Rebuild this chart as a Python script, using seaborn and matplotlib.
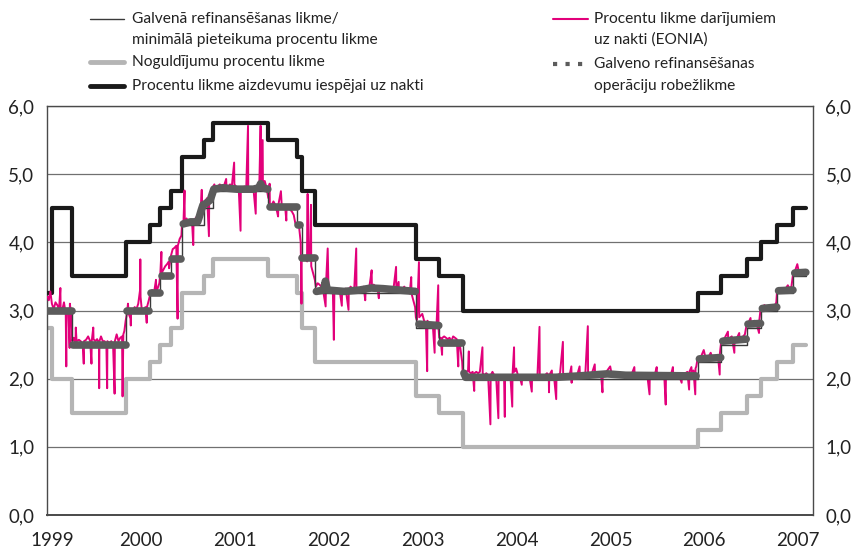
import numpy as np
import pandas as pd
import seaborn as sns
import matplotlib
matplotlib.use("Agg")
from matplotlib import pyplot as plt
import matplotlib.transforms as mtransforms
from matplotlib.lines import Line2D
from matplotlib.ticker import FuncFormatter

# --- ECB policy rates (step changes) ---
rate_dates = ["1999-01-04", "1999-01-22", "1999-04-09", "1999-11-05", "2000-02-04",
              "2000-03-17", "2000-04-28", "2000-06-09", "2000-09-01", "2000-10-06",
              "2001-05-11", "2001-08-31", "2001-09-18", "2001-11-09", "2002-12-06",
              "2003-03-07", "2003-06-06", "2005-12-06", "2006-03-08", "2006-06-15",
              "2006-08-09", "2006-10-11", "2006-12-13", "2007-02-01"]
mro_rate = [3.0, 3.0, 2.5, 3.0, 3.25, 3.5, 3.75, 4.25, 4.5, 4.75, 4.5, 4.25, 3.75,
            3.25, 2.75, 2.5, 2.0, 2.25, 2.5, 2.75, 3.0, 3.25, 3.5, 3.5]
deposit_rate = [2.75, 2.0, 1.5, 2.0, 2.25, 2.5, 2.75, 3.25, 3.5, 3.75, 3.5, 3.25, 2.75,
                2.25, 1.75, 1.5, 1.0, 1.25, 1.5, 1.75, 2.0, 2.25, 2.5, 2.5]
lending_rate = [3.25, 4.5, 3.5, 4.0, 4.25, 4.5, 4.75, 5.25, 5.5, 5.75, 5.5, 5.25, 4.75,
                4.25, 3.75, 3.5, 3.0, 3.25, 3.5, 3.75, 4.0, 4.25, 4.5, 4.5]

# --- marginal rate of main refinancing operations (None = gap) ---
marg_dates = ["1999-01-04", "1999-04-07", None,
              "1999-04-14", "1999-11-03", None,
              "1999-11-10", "2000-02-02", None,
              "2000-02-09", "2000-03-15", None,
              "2000-03-22", "2000-04-26", None,
              "2000-05-03", "2000-06-07", None,
              "2000-06-14", "2000-07-12", "2000-08-09", "2000-08-16", "2000-08-23",
              "2000-08-30", "2000-09-06", "2000-09-27", "2000-10-04", "2000-10-11",
              "2000-11-15", "2001-01-10", "2001-03-14", "2001-04-04", "2001-04-11",
              "2001-04-18", "2001-05-09", None,
              "2001-05-16", "2001-06-27", "2001-08-29", None,
              "2001-09-05", "2001-09-12", None,
              "2001-09-19", "2001-11-07", None,
              "2001-11-14", "2001-12-12", "2001-12-19", "2001-12-27", "2002-03-01",
              "2002-05-01", "2002-06-15", "2002-08-01", "2002-10-01", "2002-12-04", None,
              "2002-12-11", "2002-12-12", None,
              "2002-12-18", "2003-03-05", None,
              "2003-03-12", "2003-06-04", None,
              "2003-06-11", "2003-06-18", "2004-06-01", "2004-09-01", "2004-12-20",
              "2005-03-01", "2005-11-30", None,
              "2005-12-13", "2006-03-06", None,
              "2006-03-14", "2006-06-13", None,
              "2006-06-20", "2006-08-08", None,
              "2006-08-15", "2006-10-10", None,
              "2006-10-17", "2006-12-12", None,
              "2006-12-19", "2007-01-31"]
marg_vals = [3.0, 3.0, None,
             2.5, 2.5, None,
             3.0, 3.0, None,
             3.25, 3.25, None,
             3.5, 3.5, None,
             3.75, 3.75, None,
             4.27, 4.30, 4.30, 4.38, 4.47,
             4.55, 4.56, 4.62, 4.70, 4.78,
             4.80, 4.78, 4.78, 4.80, 4.86,
             4.80, 4.78, None,
             4.52, 4.52, 4.52, None,
             4.26, 4.26, None,
             3.77, 3.77, None,
             3.28, 3.30, 3.43, 3.30, 3.28,
             3.30, 3.33, 3.32, 3.30, 3.28, None,
             3.01, 3.01, None,
             2.80, 2.78, None,
             2.53, 2.53, None,
             2.08, 2.02, 2.02, 2.04, 2.07,
             2.05, 2.04, None,
             2.29, 2.31, None,
             2.55, 2.58, None,
             2.80, 2.81, None,
             3.03, 3.05, None,
             3.29, 3.30, None,
             3.55, 3.56]

# --- EONIA overnight rate ---
eonia_dates = [
    "1999-01-04", "1999-01-08", "1999-01-14", "1999-01-20", "1999-01-27", "1999-02-03",
    "1999-02-10", "1999-02-17", "1999-02-22", "1999-02-23", "1999-03-01", "1999-03-08",
    "1999-03-15", "1999-03-17", "1999-03-18", "1999-03-25", "1999-03-30", "1999-03-31",
    "1999-04-06", "1999-04-09", "1999-04-15", "1999-04-22", "1999-04-23", "1999-04-26",
    "1999-05-05", "1999-05-12", "1999-05-20", "1999-05-24", "1999-05-25", "1999-06-02",
    "1999-06-10", "1999-06-18", "1999-06-23", "1999-06-24", "1999-06-30", "1999-07-01",
    "1999-07-08", "1999-07-15", "1999-07-22", "1999-07-23", "1999-07-24", "1999-07-30",
    "1999-08-06", "1999-08-13", "1999-08-20", "1999-08-23", "1999-08-24", "1999-09-01",
    "1999-09-08", "1999-09-15", "1999-09-21", "1999-09-22", "1999-09-29", "1999-10-06",
    "1999-10-13", "1999-10-20", "1999-10-22", "1999-10-25", "1999-10-29", "1999-11-03",
    "1999-11-08", "1999-11-12", "1999-11-15", "1999-11-22", "1999-11-23", "1999-11-24",
    "1999-12-01", "1999-12-08", "1999-12-15", "1999-12-22", "1999-12-29", "1999-12-30",
    "1999-12-31",
    "2000-01-05", "2000-01-12", "2000-01-19", "2000-01-24", "2000-01-25", "2000-02-01",
    "2000-02-07", "2000-02-14", "2000-02-21", "2000-02-29", "2000-03-01", "2000-03-06",
    "2000-03-13", "2000-03-17", "2000-03-21", "2000-03-22", "2000-03-29", "2000-04-05",
    "2000-04-12", "2000-04-19", "2000-04-20", "2000-04-27", "2000-05-04", "2000-05-11",
    "2000-05-18", "2000-05-23", "2000-05-24", "2000-05-31", "2000-06-07", "2000-06-09",
    "2000-06-15", "2000-06-19", "2000-06-20", "2000-06-27", "2000-07-04", "2000-07-11",
    "2000-07-18", "2000-07-23", "2000-07-24", "2000-07-31", "2000-08-07", "2000-08-14",
    "2000-08-21", "2000-08-25", "2000-08-26", "2000-09-01", "2000-09-08", "2000-09-15",
    "2000-09-22", "2000-09-23", "2000-09-29", "2000-10-06", "2000-10-13", "2000-10-20",
    "2000-10-27", "2000-11-03", "2000-11-10", "2000-11-17", "2000-11-28", "2000-11-29",
    "2000-12-06", "2000-12-13", "2000-12-20", "2000-12-29", "2000-12-30",
    "2001-01-09", "2001-01-16", "2001-01-23", "2001-01-24", "2001-01-31", "2001-02-07",
    "2001-02-14", "2001-02-21", "2001-02-22", "2001-03-01", "2001-03-08", "2001-03-15",
    "2001-03-23", "2001-03-24", "2001-03-31", "2001-04-06", "2001-04-11", "2001-04-12",
    "2001-04-19", "2001-04-20", "2001-04-27", "2001-05-04", "2001-05-11", "2001-05-16",
    "2001-05-17", "2001-05-24", "2001-05-31", "2001-06-07", "2001-06-14", "2001-06-18",
    "2001-06-19", "2001-06-29", "2001-07-02", "2001-07-09", "2001-07-16", "2001-07-20",
    "2001-07-21", "2001-07-28", "2001-08-04", "2001-08-11", "2001-08-18", "2001-08-24",
    "2001-08-31", "2001-09-07", "2001-09-14", "2001-09-17", "2001-09-18", "2001-09-25",
    "2001-10-02", "2001-10-09", "2001-10-11", "2001-10-12", "2001-10-19", "2001-10-24",
    "2001-10-25", "2001-11-01", "2001-11-08", "2001-11-12", "2001-11-19", "2001-11-26",
    "2001-12-03", "2001-12-10", "2001-12-20", "2001-12-21", "2001-12-28", "2001-12-31",
    "2002-01-03", "2002-01-10", "2002-01-17", "2002-01-21", "2002-01-23", "2002-01-30",
    "2002-02-06", "2002-02-13", "2002-02-21", "2002-02-22", "2002-03-01", "2002-03-08",
    "2002-03-19", "2002-03-20", "2002-03-27", "2002-04-03", "2002-04-10", "2002-04-18",
    "2002-04-19", "2002-04-26", "2002-05-03", "2002-05-10", "2002-05-17", "2002-05-23",
    "2002-05-25", "2002-06-01", "2002-06-08", "2002-06-12", "2002-06-17", "2002-06-18",
    "2002-06-25", "2002-07-02", "2002-07-09", "2002-07-15", "2002-07-16", "2002-07-23",
    "2002-07-30", "2002-08-06", "2002-08-13", "2002-08-20", "2002-08-27", "2002-09-03",
    "2002-09-10", "2002-09-20", "2002-09-21", "2002-09-30", "2002-10-01", "2002-10-08",
    "2002-10-15", "2002-10-22", "2002-10-29", "2002-11-05", "2002-11-12", "2002-11-18",
    "2002-11-19", "2002-11-26", "2002-12-03", "2002-12-06", "2002-12-10", "2002-12-18",
    "2002-12-19", "2002-12-31",
    "2003-01-07", "2003-01-14", "2003-01-19", "2003-01-20", "2003-01-27", "2003-02-03",
    "2003-02-10", "2003-02-17", "2003-02-18", "2003-02-24", "2003-03-03", "2003-03-04",
    "2003-03-07", "2003-03-12", "2003-03-18", "2003-03-19", "2003-03-26", "2003-04-02",
    "2003-04-09", "2003-04-16", "2003-04-23", "2003-04-30", "2003-05-07", "2003-05-14",
    "2003-05-20", "2003-05-21", "2003-05-28", "2003-06-04", "2003-06-06", "2003-06-13",
    "2003-06-20", "2003-06-27", "2003-06-30", "2003-07-01", "2003-07-08", "2003-07-15",
    "2003-07-21", "2003-07-22", "2003-07-29", "2003-08-05", "2003-08-12", "2003-08-22",
    "2003-08-23", "2003-08-30", "2003-09-06", "2003-09-13", "2003-09-22", "2003-09-23",
    "2003-09-30", "2003-10-07", "2003-10-14", "2003-10-23", "2003-10-24", "2003-10-31",
    "2003-11-07", "2003-11-14", "2003-11-17", "2003-11-18", "2003-11-25", "2003-12-02",
    "2003-12-09", "2003-12-16", "2003-12-17", "2003-12-23", "2003-12-24", "2003-12-31",
    "2004-01-07", "2004-01-14", "2004-01-22", "2004-01-23", "2004-01-30", "2004-02-06",
    "2004-02-13", "2004-02-20", "2004-03-01", "2004-03-02", "2004-03-09", "2004-03-16",
    "2004-03-23", "2004-03-31", "2004-04-01", "2004-04-08", "2004-04-15", "2004-04-22",
    "2004-04-29", "2004-05-06", "2004-05-07", "2004-05-08", "2004-05-18", "2004-05-19",
    "2004-05-26", "2004-06-04", "2004-06-05", "2004-06-12", "2004-06-19", "2004-06-30",
    "2004-07-01", "2004-07-08", "2004-07-15", "2004-07-26", "2004-08-02", "2004-08-03",
    "2004-08-04", "2004-08-11", "2004-08-18", "2004-08-25", "2004-09-03", "2004-09-04",
    "2004-09-11", "2004-09-18", "2004-09-25", "2004-10-05", "2004-10-06", "2004-10-13",
    "2004-10-21", "2004-11-01", "2004-11-02", "2004-11-09", "2004-11-16", "2004-11-25",
    "2004-12-01", "2004-12-02", "2004-12-09", "2004-12-16", "2004-12-31",
    "2005-01-05", "2005-01-12", "2005-01-19", "2005-01-26", "2005-02-02", "2005-02-09",
    "2005-02-16", "2005-02-23", "2005-03-02", "2005-03-09", "2005-03-16", "2005-03-23",
    "2005-04-04", "2005-04-05", "2005-04-12", "2005-04-19", "2005-04-26", "2005-05-03",
    "2005-05-10", "2005-05-24", "2005-06-02", "2005-06-03", "2005-06-10", "2005-06-17",
    "2005-06-24", "2005-06-30", "2005-07-01", "2005-07-08", "2005-07-15", "2005-07-22",
    "2005-07-29", "2005-08-04", "2005-08-05", "2005-08-12", "2005-08-19", "2005-08-26",
    "2005-09-01", "2005-09-02", "2005-09-09", "2005-09-16", "2005-09-23", "2005-10-05",
    "2005-10-06", "2005-10-13", "2005-10-20", "2005-10-27", "2005-11-03", "2005-11-04",
    "2005-11-12", "2005-11-13", "2005-11-20", "2005-11-27", "2005-11-28", "2005-12-01",
    "2005-12-06", "2005-12-13", "2005-12-20", "2005-12-30",
    "2006-01-05", "2006-01-12", "2006-01-19", "2006-01-26", "2006-02-02", "2006-02-09",
    "2006-02-16", "2006-02-23", "2006-03-02", "2006-03-03", "2006-03-08", "2006-03-15",
    "2006-03-22", "2006-04-03", "2006-04-04", "2006-04-11", "2006-04-18", "2006-04-28",
    "2006-04-29", "2006-05-06", "2006-05-17", "2006-05-18", "2006-05-25", "2006-06-01",
    "2006-06-08", "2006-06-15", "2006-06-22", "2006-06-30", "2006-07-01", "2006-07-08",
    "2006-07-15", "2006-07-22", "2006-08-02", "2006-08-03", "2006-08-09", "2006-08-16",
    "2006-08-23", "2006-08-30", "2006-09-06", "2006-09-13", "2006-09-20", "2006-09-27",
    "2006-10-06", "2006-10-07", "2006-10-11", "2006-10-18", "2006-10-25", "2006-11-01",
    "2006-11-08", "2006-11-15", "2006-11-22", "2006-11-29", "2006-12-06", "2006-12-13",
    "2006-12-20", "2006-12-29",
    "2007-01-03", "2007-01-10", "2007-01-17", "2007-01-24", "2007-01-31"]
eonia_vals = [
    3.20, 3.15, 3.28, 3.10, 3.02, 3.12,
    3.08, 3.02, 3.33, 3.05, 3.00, 3.12,
    2.95, 2.18, 2.95, 3.02, 2.45, 3.10,
    2.90, 2.55, 2.60, 2.52, 2.75, 2.55,
    2.57, 2.55, 2.50, 2.22, 2.55, 2.57,
    2.62, 2.55, 2.22, 2.55, 2.75, 2.58,
    2.55, 2.58, 2.52, 1.86, 2.55, 2.62,
    2.55, 2.55, 2.50, 1.86, 2.55, 2.52,
    2.55, 2.50, 1.78, 2.55, 2.65, 2.55,
    2.60, 2.62, 1.74, 2.65, 2.70, 2.85,
    2.95, 3.10, 2.95, 2.88, 2.78, 2.95,
    3.00, 3.05, 3.02, 3.10, 3.30, 3.75,
    3.20,
    3.00, 3.02, 3.05, 2.82, 3.05, 3.15,
    3.25, 3.30, 3.25, 3.45, 3.30, 3.32,
    3.40, 3.55, 3.86, 3.55, 3.60, 3.65,
    3.68, 3.72, 3.62, 3.80, 3.90, 3.92,
    3.95, 2.88, 3.95, 4.05, 4.10, 4.25,
    4.30, 4.76, 4.30, 4.35, 4.28, 4.30,
    4.32, 3.96, 4.30, 4.35, 4.38, 4.40,
    4.45, 4.77, 4.45, 4.55, 4.60, 4.65,
    4.09, 4.65, 4.70, 4.80, 4.85, 4.78,
    4.82, 4.85, 4.83, 4.80, 4.93, 4.82,
    4.80, 4.85, 4.82, 5.17, 4.85,
    4.80, 4.78, 4.17, 4.78, 4.80, 4.82,
    4.78, 5.71, 4.80, 4.78, 4.80, 4.75,
    4.42, 4.80, 4.85, 4.85, 5.71, 4.90,
    5.50, 4.85, 4.90, 4.80, 4.65, 4.86,
    4.55, 4.55, 4.60, 4.55, 4.45, 4.38,
    4.55, 4.75, 4.55, 4.52, 4.50, 4.32,
    4.52, 4.50, 4.48, 4.45, 4.40, 4.28,
    4.25, 4.25, 4.00, 3.10, 3.75, 3.80,
    3.75, 3.72, 4.71, 3.75, 3.80, 4.55,
    3.65, 3.55, 3.45, 3.35, 3.40, 3.38,
    3.35, 3.30, 3.06, 3.35, 3.91, 3.35,
    3.30, 3.28, 3.30, 2.57, 3.30, 3.32,
    3.30, 3.28, 3.07, 3.30, 3.30, 3.32,
    3.01, 3.30, 3.35, 3.32, 3.30, 3.91,
    3.32, 3.30, 3.32, 3.30, 3.35, 3.15,
    3.33, 3.35, 3.35, 3.45, 3.59, 3.35,
    3.38, 3.35, 3.35, 3.18, 3.32, 3.30,
    3.32, 3.33, 3.32, 3.30, 3.32, 3.30,
    3.32, 3.64, 3.32, 3.42, 3.30, 3.30,
    3.32, 3.35, 3.30, 3.28, 3.25, 3.49,
    3.25, 3.15, 3.05, 2.90, 2.86, 3.71,
    2.90, 2.95,
    2.85, 2.82, 2.11, 2.85, 2.80, 2.82,
    2.78, 2.38, 2.80, 2.75, 3.37, 2.75,
    2.60, 2.60, 2.35, 2.60, 2.62, 2.60,
    2.58, 2.60, 2.55, 2.62, 2.60, 2.58,
    2.18, 2.55, 2.45, 2.25, 2.10, 2.08,
    2.10, 2.12, 2.40, 2.10, 2.08, 2.10,
    1.82, 2.08, 2.10, 2.08, 2.10, 2.46,
    2.08, 2.05, 2.08, 2.05, 1.33, 2.05,
    2.10, 2.05, 2.05, 1.42, 2.05, 2.05,
    2.03, 2.05, 1.44, 2.05, 2.00, 2.05,
    2.03, 1.59, 2.05, 2.46, 2.10, 2.15,
    2.05, 2.03, 1.91, 2.03, 2.05, 2.02,
    2.03, 2.05, 1.81, 2.03, 2.05, 2.02,
    2.05, 2.76, 2.05, 2.03, 2.05, 2.05,
    2.08, 2.05, 1.80, 2.05, 2.12, 2.03,
    2.05, 1.70, 2.03, 2.05, 2.08, 2.54,
    2.06, 2.05, 2.05, 2.05, 2.18, 1.94,
    2.05, 2.06, 2.05, 2.06, 2.18, 2.05,
    2.06, 2.05, 2.05, 2.77, 2.07, 2.08,
    2.08, 2.21, 2.08, 2.08, 2.08, 2.08,
    1.80, 2.08, 2.10, 2.10, 2.18,
    2.08, 2.08, 2.06, 2.08, 2.07, 2.06,
    2.06, 2.07, 2.06, 2.05, 2.06, 2.05,
    2.17, 2.07, 2.08, 2.06, 2.07, 2.06,
    2.05, 2.06, 1.77, 2.07, 2.08, 2.08,
    2.08, 2.17, 2.07, 2.06, 2.06, 2.08,
    2.07, 1.62, 2.06, 2.06, 2.08, 2.08,
    2.17, 2.06, 2.06, 2.08, 2.07, 1.94,
    2.07, 2.08, 2.08, 2.10, 1.84, 2.10,
    2.17, 2.10, 2.12, 1.77, 2.15, 2.18,
    2.30, 2.30, 2.33, 2.42,
    2.32, 2.32, 2.33, 2.38, 2.30, 2.32,
    2.33, 2.35, 2.06, 2.38, 2.55, 2.58,
    2.60, 2.69, 2.58, 2.60, 2.62, 2.38,
    2.60, 2.58, 2.67, 2.58, 2.60, 2.62,
    2.65, 2.80, 2.82, 2.89, 2.82, 2.82,
    2.85, 2.83, 2.67, 2.85, 3.05, 3.05,
    3.08, 3.05, 3.05, 3.06, 3.08, 3.05,
    3.10, 3.05, 3.28, 3.30, 3.32, 3.30,
    3.32, 3.33, 3.37, 3.32, 3.35, 3.55,
    3.58, 3.68,
    3.58, 3.56, 3.58, 3.57, 3.56]

year_ticks = ["1999", "2000", "2001", "2002", "2003", "2004", "2005", "2006", "2007"]
y_ticks = [0, 1, 2, 3, 4, 5, 6]

PINK = "#e2007a"
BLACK = "#1a1a1a"
LIGHT = "#b5b5b5"
DARK = "#5c5c5c"

sns.set_theme(style="white")
plt.rcParams["font.family"] = ["Lato", "DejaVu Sans"]

rates = pd.DataFrame({"date": pd.to_datetime(rate_dates), "mro": mro_rate,
                      "dep": deposit_rate, "lend": lending_rate})
eonia = pd.DataFrame({"date": pd.to_datetime(eonia_dates), "rate": eonia_vals})
marg = pd.DataFrame({"date": marg_dates, "rate": marg_vals})
marg["seg"] = marg["date"].isna().cumsum()
marg = marg.dropna()
marg["date"] = pd.to_datetime(marg["date"])

fig = plt.figure(figsize=(8.54, 5.52), dpi=100)
ax = fig.add_axes([47 / 854, 37 / 552, 766 / 854, 409 / 552])

sns.lineplot(data=rates, x="date", y="dep", ax=ax, color=LIGHT, lw=3.0,
             drawstyle="steps-post", zorder=2)
sns.lineplot(data=rates, x="date", y="lend", ax=ax, color=BLACK, lw=3.0,
             drawstyle="steps-post", zorder=3)
sns.lineplot(data=eonia, x="date", y="rate", ax=ax, color=PINK, lw=1.4, zorder=4)
sns.lineplot(data=rates, x="date", y="mro", ax=ax, color="#3a3a3a", lw=1.0,
             drawstyle="steps-post", zorder=5)
sns.lineplot(data=marg, x="date", y="rate", units="seg", estimator=None, ax=ax,
             color=DARK, lw=5.5, solid_capstyle="round", zorder=6, legend=False)

ax.set_xlim(pd.Timestamp("1999-01-01"), pd.Timestamp("2007-02-28"))
ax.set_ylim(0, 6)
ax.set_yticks(y_ticks)
ax.yaxis.set_major_formatter(FuncFormatter(lambda v, _: f"{v:.1f}".replace(".", ",")))
ax.set_xticks(pd.to_datetime([y + "-01-01" for y in year_ticks]))
ax.set_xticklabels(year_ticks)
ax.set_xlabel("")
ax.set_ylabel("")

ax.yaxis.grid(True, color="#707070", lw=0.9)
ax.set_axisbelow(True)
for s in ax.spines.values():
    s.set_color("#4a4a4a")
    s.set_linewidth(1.0)
ax.spines["bottom"].set_linewidth(1.4)

ax.tick_params(axis="y", length=0, pad=9, labelsize=13.5, labelcolor="#222222",
               labelleft=True, labelright=True)
ax.tick_params(axis="x", direction="in", length=5, width=1, color="#4a4a4a",
               pad=12, labelsize=13.5, labelcolor="#222222")

# first year label sits a little right of the spine
first = ax.get_xticklabels()[0]
first.set_transform(first.get_transform() +
                    mtransforms.ScaledTranslation(5 / 100, 0, fig.dpi_scale_trans))

# legend drawn by hand in figure pixels
def fx(px):
    return px / 854

def fy(py):
    return 1 - py / 552

leg_font = dict(fontsize=11.2, color="#222222", va="center", ha="left")
fig.add_artist(Line2D([fx(90), fx(124)], [fy(19), fy(19)], color="#3a3a3a", lw=1.0))
fig.text(fx(132), fy(19), "Galvenā refinansēšanas likme/", **leg_font)
fig.text(fx(132), fy(40), "minimālā pieteikuma procentu likme", **leg_font)
fig.add_artist(Line2D([fx(90), fx(124)], [fy(62), fy(62)], color=LIGHT, lw=3.5))
fig.text(fx(132), fy(62), "Noguldījumu procentu likme", **leg_font)
fig.add_artist(Line2D([fx(90), fx(124)], [fy(86), fy(86)], color=BLACK, lw=3.5))
fig.text(fx(132), fy(86), "Procentu likme aizdevumu iespējai uz nakti", **leg_font)

fig.add_artist(Line2D([fx(553), fx(588)], [fy(19), fy(19)], color=PINK, lw=1.5))
fig.text(fx(594), fy(19), "Procentu likme darījumiem", **leg_font)
fig.text(fx(594), fy(40), "uz nakti (EONIA)", **leg_font)
fig.add_artist(Line2D([fx(553), fx(584)], [fy(64), fy(64)], color=DARK, lw=3.0,
                      linestyle=(0, (1, 2))))
fig.text(fx(594), fy(64), "Galveno refinansēšanas", **leg_font)
fig.text(fx(594), fy(86), "operāciju robežlikme", **leg_font)

fig.savefig("out.png", dpi=100)
